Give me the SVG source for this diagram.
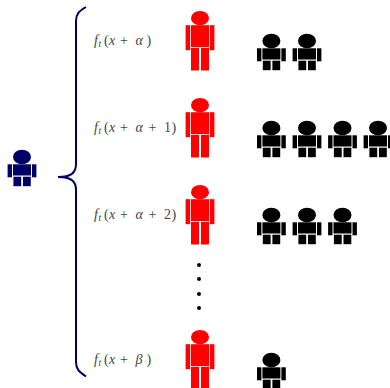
<svg xmlns="http://www.w3.org/2000/svg" xmlns:xlink="http://www.w3.org/1999/xlink" width="390" height="388" viewBox="0 0 390 388">
<style>
.m{font-family:"Liberation Serif","Times New Roman",serif;font-size:14px;fill:#444}
.i{font-style:italic}
.s{font-size:9.500px}
.red{fill:#f00}.blk{fill:#000}.nav{fill:#000066}
</style>
<defs>
<g id="small">
<ellipse cx="9" cy="7" rx="9" ry="7.3"/>
<rect x="0" y="14.3" width="18" height="11.2"/>
<rect x="-5.4" y="14.3" width="4.4" height="13"/>
<rect x="19" y="14.3" width="4.4" height="13"/>
<rect x="0.4" y="26.7" width="7.8" height="9.5"/>
<rect x="10" y="26.7" width="7.8" height="9.5"/>
</g>
<g id="tall">
<ellipse cx="9" cy="7.2" rx="9" ry="7.2"/>
<rect x="0" y="14.2" width="18" height="22"/>
<rect x="-5.4" y="14.2" width="4.6" height="25"/>
<rect x="18.8" y="14.2" width="4.6" height="25"/>
<rect x="0" y="37" width="8" height="22.500"/>
<rect x="10" y="37" width="8" height="22.500"/>
</g>
</defs>
<g id="connectors">
<path d="M86 7C79 11 76 14 76 21V164C76 173 71 177 58 177C71 177 76 181 76 190V362C76 369 79 372 86 376.500" fill="none" stroke="#000066" stroke-width="2"/>
</g>
<g id="source"><use xlink:href="#small" href="#small" class="nav" x="13" y="150"/></g>
<g id="label-1"><text class="m" y="44.500"><tspan class="i" x="94">f</tspan><tspan class="i s" x="98.500" dy="2">t</tspan><tspan x="104" dy="-2">(</tspan><tspan class="i" x="109">x</tspan><tspan x="120">+</tspan><tspan class="i" x="135.500">α</tspan><tspan x="146.500">)</tspan></text></g>
<g id="label-2"><text class="m" y="131.500"><tspan class="i" x="94">f</tspan><tspan class="i s" x="98.500" dy="2">t</tspan><tspan x="104" dy="-2">(</tspan><tspan class="i" x="109">x</tspan><tspan x="120">+</tspan><tspan class="i" x="135.500">α</tspan><tspan x="148.500">+</tspan><tspan x="164">1</tspan><tspan x="171.500">)</tspan></text></g>
<g id="label-3"><text class="m" y="218.500"><tspan class="i" x="94">f</tspan><tspan class="i s" x="98.500" dy="2">t</tspan><tspan x="104" dy="-2">(</tspan><tspan class="i" x="109">x</tspan><tspan x="120">+</tspan><tspan class="i" x="135.500">α</tspan><tspan x="148.500">+</tspan><tspan x="164">2</tspan><tspan x="171.500">)</tspan></text></g>
<g id="label-4"><text class="m" y="363.500"><tspan class="i" x="94">f</tspan><tspan class="i s" x="98.500" dy="2">t</tspan><tspan x="104" dy="-2">(</tspan><tspan class="i" x="109">x</tspan><tspan x="120">+</tspan><tspan class="i" x="135.500">β</tspan><tspan x="146.500">)</tspan></text></g>
<g id="red-1"><use xlink:href="#tall" href="#tall" class="red" x="191" y="11"/></g>
<g id="red-2"><use xlink:href="#tall" href="#tall" class="red" x="191" y="98"/></g>
<g id="red-3"><use xlink:href="#tall" href="#tall" class="red" x="191" y="185"/></g>
<g id="red-4"><use xlink:href="#tall" href="#tall" class="red" x="191" y="330"/></g>
<g id="row-1" class="blk"><use xlink:href="#small" href="#small" x="262.400" y="34"/><use xlink:href="#small" href="#small" x="298" y="34"/></g>
<g id="row-2" class="blk"><use xlink:href="#small" href="#small" x="262.400" y="121"/><use xlink:href="#small" href="#small" x="298" y="121"/><use xlink:href="#small" href="#small" x="333.500" y="121"/><use xlink:href="#small" href="#small" x="369" y="121"/></g>
<g id="row-3" class="blk"><use xlink:href="#small" href="#small" x="262.400" y="208"/><use xlink:href="#small" href="#small" x="298" y="208"/><use xlink:href="#small" href="#small" x="333.500" y="208"/></g>
<g id="row-4" class="blk"><use xlink:href="#small" href="#small" x="262.400" y="353"/></g>
<g id="dots" class="blk"><circle cx="199" cy="265" r="2"/><circle cx="199" cy="279" r="2"/><circle cx="199" cy="294" r="2"/><circle cx="199" cy="308" r="2"/></g>
</svg>
